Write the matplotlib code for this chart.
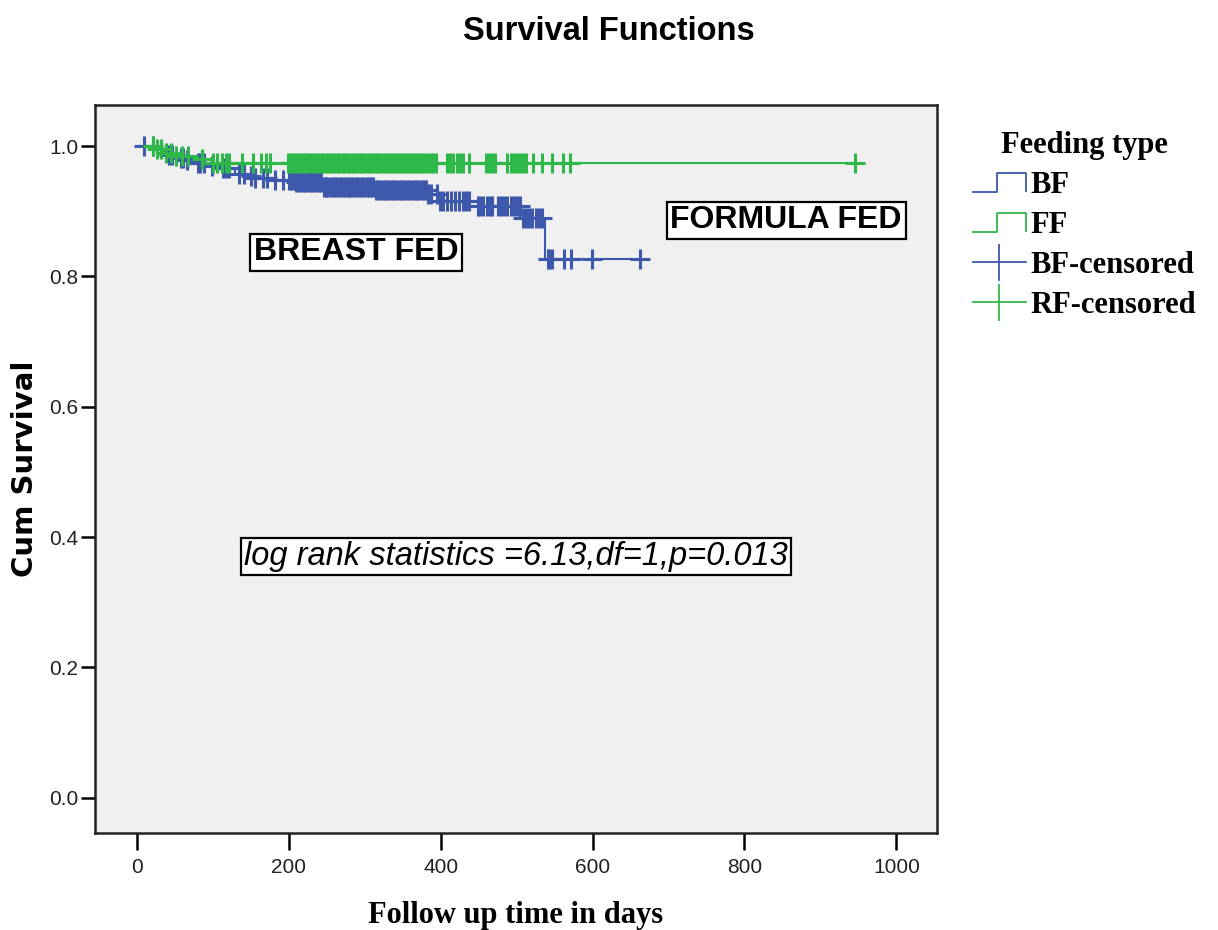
import numpy as np
import matplotlib
matplotlib.use("Agg")
import matplotlib.pyplot as plt
from matplotlib.lines import Line2D
from matplotlib.legend_handler import HandlerBase

# ---------------- data ----------------
bf_step_days = [0, 25, 32, 40, 50, 62, 76, 90, 111, 129, 145, 155, 180, 208, 243, 313, 383, 396, 449, 505, 538]
bf_step_surv = [1.0, 0.996, 0.991, 0.987, 0.982, 0.978, 0.974, 0.970, 0.966, 0.958, 0.954, 0.951, 0.948,
                0.945, 0.938, 0.932, 0.926, 0.916, 0.908, 0.890, 0.827]
bf_end_day = 662

ff_step_days = [0, 25, 35, 50, 70, 100]
ff_step_surv = [1.0, 0.995, 0.990, 0.985, 0.980, 0.974]
ff_end_day = 945

bf_censored = [10, 21, 42, 47, 58, 61, 66, 80, 83, 89, 99, 113, 118, 122, 134, 141, 150, 156, 166, 172,
               182, 192, 201, 203, 206, 210, 212, 215, 219, 221, 224, 228, 231, 233, 237, 240, 242, 246,
               249, 251, 255, 258, 260, 264, 267, 269, 273, 276, 279, 281, 285, 288, 290, 294, 297, 299,
               303, 306, 309, 311, 315, 318, 320, 324, 327, 330, 332, 336, 339, 341, 345, 348, 351, 353,
               357, 360, 363, 366, 369, 372, 375, 378, 381, 384, 387, 395, 399, 403, 408, 414, 419, 424,
               429, 433, 438, 449, 452, 456, 461, 465, 468, 475, 479, 484, 488, 493, 497, 501, 504, 508,
               512, 516, 520, 525, 529, 534, 541, 543, 546, 563, 572, 599, 662]

ff_censored = [21, 27, 32, 38, 45, 52, 59, 67, 86, 100, 106, 112, 117, 122, 138, 153, 164, 170, 175,
               199, 202, 205, 208, 211, 213, 217, 220, 222, 226, 229, 232, 234, 238, 241, 244, 247, 250,
               252, 256, 259, 262, 265, 268, 271, 273, 277, 280, 283, 286, 289, 292, 295, 298, 300, 304,
               307, 310, 313, 316, 319, 322, 325, 328, 331, 334, 337, 340, 343, 346, 349, 352, 355, 358,
               361, 364, 367, 370, 373, 376, 379, 383, 387, 390, 394, 408, 412, 416, 421, 425, 429, 438,
               460, 464, 468, 471, 488, 492, 496, 500, 504, 509, 513, 521, 534, 547, 561, 570, 945]

x_ticks = [0, 200, 400, 600, 800, 1000]
y_ticks = [0.0, 0.2, 0.4, 0.6, 0.8, 1.0]

BLUE = "#3e58ac"
GREEN = "#2fb84a"

# ---------------- helpers ----------------
def surv_at(days, step_days, step_surv):
    idx = np.searchsorted(step_days, days, side="right") - 1
    return np.asarray(step_surv)[idx]


class StepHandler(HandlerBase):
    def create_artists(self, legend, orig_handle, xdescent, ydescent, width, height, fontsize, trans):
        x0, y0 = -xdescent, -ydescent
        xs = [x0, x0 + width * 0.45, x0 + width * 0.45, x0 + width, x0 + width]
        ys = [y0, y0, y0 + height, y0 + height, y0 + height * 0.05]
        ln = Line2D(xs, ys, color=orig_handle.get_color(), lw=1.3)
        ln.set_transform(trans)
        return [ln]


class CrossHandler(HandlerBase):
    def create_artists(self, legend, orig_handle, xdescent, ydescent, width, height, fontsize, trans):
        x0, y0 = -xdescent, -ydescent
        c = orig_handle.get_color()
        h = Line2D([x0, x0 + width], [y0 + height / 2] * 2, color=c, lw=1.3)
        v = Line2D([x0 + width / 2] * 2, [y0 - height * 0.4, y0 + height * 1.4], color=c, lw=1.3)
        h.set_transform(trans)
        v.set_transform(trans)
        return [h, v]


# ---------------- figure ----------------
fig = plt.figure(figsize=(12.18, 9.30), dpi=100)
fig.patch.set_facecolor("white")
ax = fig.add_axes([0.078, 0.1043, 0.691, 0.7827])
ax.set_facecolor("#f0f0f0")

for step_days, step_surv, end_day, cens, col in [
    (bf_step_days, bf_step_surv, bf_end_day, bf_censored, BLUE),
    (ff_step_days, ff_step_surv, ff_end_day, ff_censored, GREEN),
]:
    xs = list(step_days) + [end_day]
    ys = list(step_surv) + [step_surv[-1]]
    ax.step(xs, ys, where="post", color=col, lw=1.5, zorder=3)
    cy = surv_at(cens, step_days, step_surv)
    ax.plot(cens, cy, linestyle="none", marker="+", markersize=14, markeredgewidth=2.2,
            color=col, zorder=4)

ax.set_xlim(-55, 1053)
ax.set_ylim(-0.054, 1.063)
ax.set_xticks(x_ticks)
ax.set_xticklabels([str(v) for v in x_ticks])
ax.set_yticks(y_ticks)
ax.set_yticklabels([f"{v:.1f}" for v in y_ticks])
ax.tick_params(direction="out", length=10, width=1.8, labelsize=15, colors="black", pad=2)
ax.tick_params(axis="x", length=12, pad=6)
for lab in ax.get_xticklabels() + ax.get_yticklabels():
    lab.set_family("Liberation Sans")
    lab.set_color("#222222")
for s in ax.spines.values():
    s.set_linewidth(1.8)
    s.set_color("#222222")

ax.set_ylabel("Cum Survival", fontsize=21, fontweight="bold", family="DejaVu Sans", labelpad=7)
ax.set_xlabel("Follow up time in days", fontsize=22, fontweight="bold", family="Liberation Serif", labelpad=17)
fig.suptitle("Survival Functions", x=0.5, y=0.983, fontsize=23.5, fontweight="bold", family="Liberation Sans")

box = dict(boxstyle="square,pad=0.12", facecolor="white", edgecolor="black", lw=1.6)
ax.text(289, 0.837, "BREAST FED", fontsize=23, fontweight="bold", family="Liberation Sans",
        ha="center", va="center", bbox=box, zorder=5)
ax.text(855, 0.886, "FORMULA FED", fontsize=23, fontweight="bold", family="Liberation Sans",
        ha="center", va="center", bbox=box, zorder=5)
ax.text(499, 0.370, "log rank statistics =6.13,df=1,p=0.013", fontsize=23.5, style="italic",
        family="Liberation Sans", ha="center", va="center",
        bbox=dict(boxstyle="square,pad=0.1", facecolor="white", edgecolor="black", lw=1.6), zorder=5)

handles = [Line2D([], [], color=BLUE), Line2D([], [], color=GREEN),
           Line2D([], [], color=BLUE, marker="+"), Line2D([], [], color=GREEN, marker="+")]
labels = ["BF", "FF", "BF-censored", "RF-censored"]
hmap = {handles[0]: StepHandler(), handles[1]: StepHandler(),
        handles[2]: CrossHandler(), handles[3]: CrossHandler()}
leg = fig.legend(handles, labels, handler_map=hmap, loc="upper left", bbox_to_anchor=(0.781, 0.882),
                 frameon=False, title="Feeding type",
                 prop={"family": "Liberation Serif", "weight": "bold", "size": 22},
                 title_fontproperties={"family": "Liberation Serif", "weight": "bold", "size": 22},
                 handlelength=1.75, handleheight=0.6, handletextpad=0.15, labelspacing=0.36,
                 borderpad=0.2)

fig.savefig("out.png", dpi=100)
